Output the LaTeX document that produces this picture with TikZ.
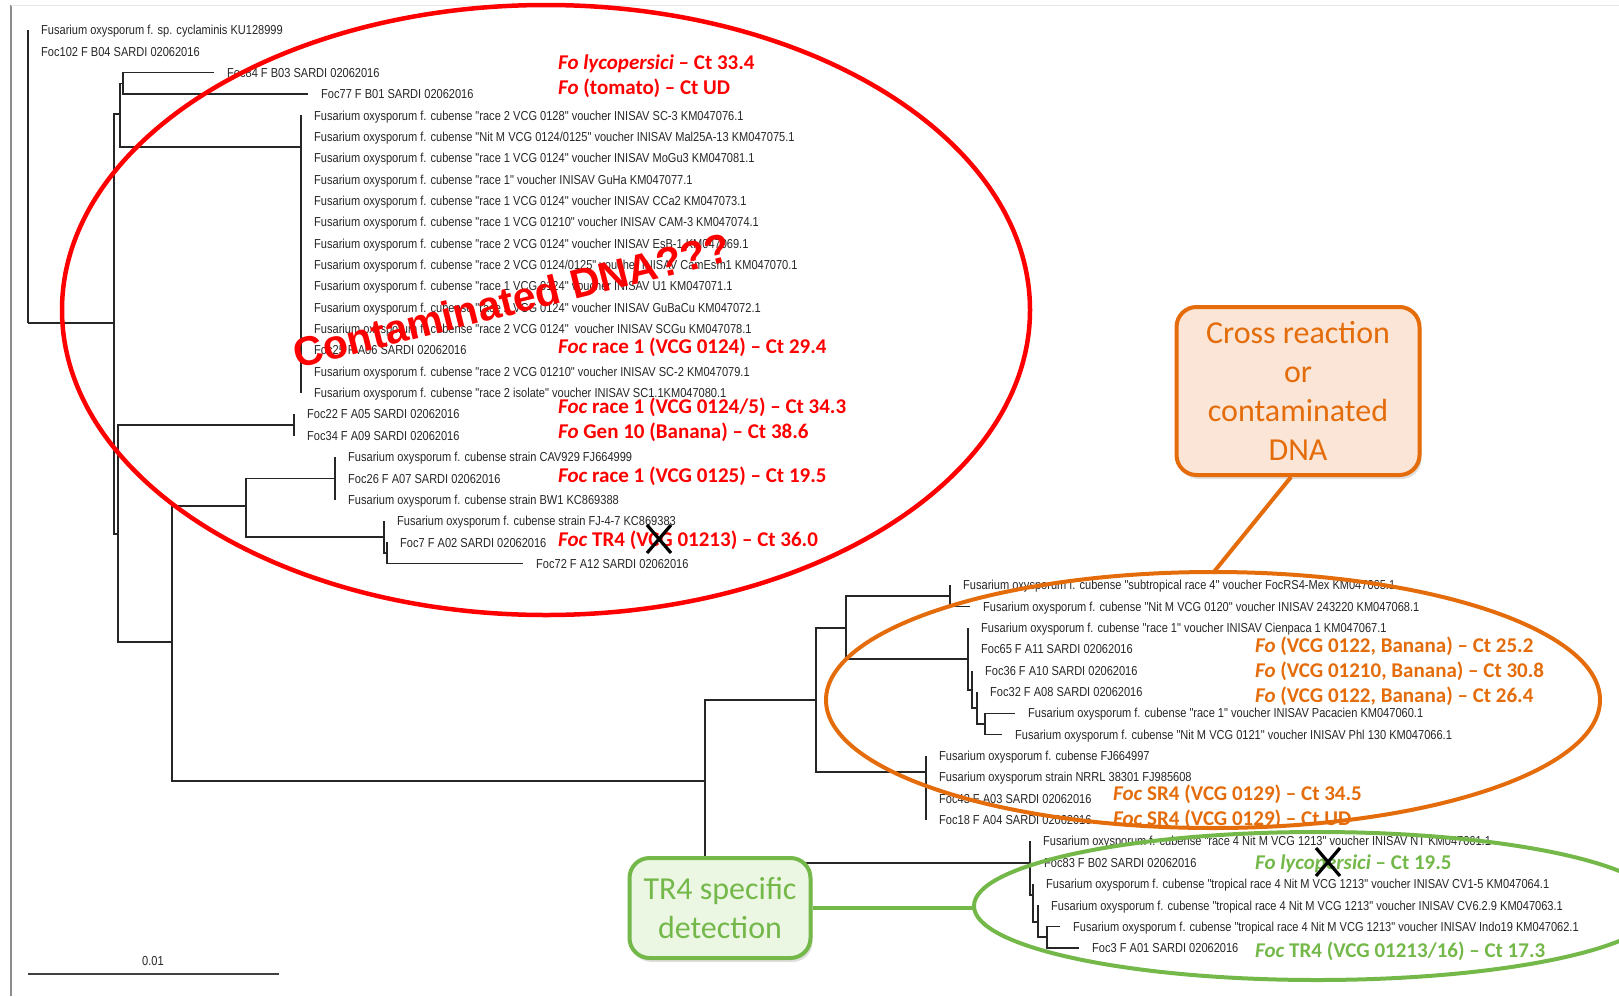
\documentclass[tikz,border=0pt]{standalone}
\usepackage{fontspec}
\usetikzlibrary{shadows}
\newfontfamily\leaffont[FakeStretch=0.85]{Liberation Sans}
\newfontfamily\calib{Carlito}
\newfontfamily\arialb{Liberation Sans}
\definecolor{ored}{HTML}{FF0000}
\definecolor{oorange}{HTML}{E46C0A}
\definecolor{ofill}{HTML}{FBE5D6}
\definecolor{ogreen}{HTML}{74B84A}
\definecolor{gfill}{HTML}{EBF7E3}
\begin{document}
\begin{tikzpicture}[x=1pt,y=-1pt,
  branch/.style={line width=1.4pt, draw=black!85},
  leaf/.style={anchor=west, inner xsep=13pt, inner ysep=0pt, text height=9.3pt, text depth=0pt, font=\leaffont\fontsize{13}{15}\selectfont, text=black!85},
  ann/.style={anchor=west, inner sep=0pt, text height=14pt, text depth=0pt, font=\calib\bfseries\fontsize{21}{25}\selectfont},
  callout/.style={rounded corners=20pt, line width=4pt, align=center, inner sep=0pt, font=\calib\fontsize{32}{39}\selectfont, drop shadow={opacity=0.25, shadow xshift=2pt, shadow yshift=-4pt}},
  xmark/.style={line width=3.2pt, black}
]
\useasboundingbox (0,0) rectangle (1619,996);
% frame
\draw[black!45, line width=1.2pt] (11,996) -- (11,5);
\draw[black!10, line width=1pt] (11,5) -- (1619,5);

% internal nodes
\coordinate (R)  at (28,323);
\coordinate (A)  at (114,323);
\coordinate (B)  at (120,114);
\coordinate (D)  at (123,83.4);
\coordinate (E)  at (301,147);
\coordinate (C)  at (118,534);
\coordinate (F)  at (294,425);
\coordinate (G)  at (172,642);
\coordinate (H)  at (246,506);
\coordinate (H1) at (335,478.35);
\coordinate (H2) at (384,537);
\coordinate (H3) at (387,553);
\coordinate (I)  at (705,781);
\coordinate (M)  at (816,700);
\coordinate (J)  at (846,628);
\coordinate (K)  at (950,596);
\coordinate (L)  at (968,659);
\coordinate (L2) at (972,690);
\coordinate (L3) at (977,708);
\coordinate (L4) at (985,724);
\coordinate (N)  at (926,772);
\coordinate (T1) at (1030,863);
\coordinate (T2) at (1033,895);
\coordinate (T3) at (1038,922);
\coordinate (T4) at (1047,937);

% leaves
\node[leaf] (l0) at (28,30) {Fusarium oxysporum f. sp. cyclaminis KU128999};
\node[leaf] (l1) at (28,51.35) {Foc102 F B04 SARDI 02062016};
\node[leaf] (l2) at (214,72.7) {Foc84 F B03 SARDI 02062016};
\node[leaf] (l3) at (308,94.05) {Foc77 F B01 SARDI 02062016};
\node[leaf] (l4) at (301,115.4) {Fusarium oxysporum f. cubense "race 2 VCG 0128" voucher INISAV SC-3 KM047076.1};
\node[leaf] (l5) at (301,136.75) {Fusarium oxysporum f. cubense "Nit M VCG 0124/0125" voucher INISAV Mal25A-13 KM047075.1};
\node[leaf] (l6) at (301,158.1) {Fusarium oxysporum f. cubense "race 1 VCG 0124" voucher INISAV MoGu3 KM047081.1};
\node[leaf] (l7) at (301,179.45) {Fusarium oxysporum f. cubense "race 1" voucher INISAV GuHa KM047077.1};
\node[leaf] (l8) at (301,200.8) {Fusarium oxysporum f. cubense "race 1 VCG 0124" voucher INISAV CCa2 KM047073.1};
\node[leaf] (l9) at (301,222.15) {Fusarium oxysporum f. cubense "race 1 VCG 01210" voucher INISAV CAM-3 KM047074.1};
\node[leaf] (l10) at (301,243.5) {Fusarium oxysporum f. cubense "race 2 VCG 0124" voucher INISAV EsB-1 KM047069.1};
\node[leaf] (l11) at (301,264.85) {Fusarium oxysporum f. cubense "race 2 VCG 0124/0125" voucher INISAV CamEsm1 KM047070.1};
\node[leaf] (l12) at (301,286.2) {Fusarium oxysporum f. cubense "race 1 VCG 0124" voucher INISAV U1 KM047071.1};
\node[leaf] (l13) at (301,307.55) {Fusarium oxysporum f. cubense "race 2 VCG 0124" voucher INISAV GuBaCu KM047072.1};
\node[leaf] (l14) at (301,328.9) {Fusarium oxysporum f. cubense "race 2 VCG 0124"\ \ voucher INISAV SCGu KM047078.1};
\node[leaf] (l15) at (301,350.25) {Foc25 F A06 SARDI 02062016};
\node[leaf] (l16) at (301,371.6) {Fusarium oxysporum f. cubense "race 2 VCG 01210" voucher INISAV SC-2 KM047079.1};
\node[leaf] (l17) at (301,392.95) {Fusarium oxysporum f. cubense "race 2 isolate" voucher INISAV SC1.1KM047080.1};
\node[leaf] (l18) at (294,414.3) {Foc22 F A05 SARDI 02062016};
\node[leaf] (l19) at (294,435.65) {Foc34 F A09 SARDI 02062016};
\node[leaf] (l20) at (335,457) {Fusarium oxysporum f. cubense strain CAV929 FJ664999};
\node[leaf] (l21) at (335,478.35) {Foc26 F A07 SARDI 02062016};
\node[leaf] (l22) at (335,499.7) {Fusarium oxysporum f. cubense strain BW1 KC869388};
\node[leaf] (l23) at (384,521.05) {Fusarium oxysporum f. cubense strain FJ-4-7 KC869383};
\node[leaf] (l24) at (387,542.4) {Foc7 F A02 SARDI 02062016};
\node[leaf] (l25) at (523,563.75) {Foc72 F A12 SARDI 02062016};
\node[leaf] (l26) at (950,585.1) {Fusarium oxysporum f. cubense "subtropical race 4" voucher FocRS4-Mex KM047065.1};
\node[leaf] (l27) at (970,606.45) {Fusarium oxysporum f. cubense "Nit M VCG 0120" voucher INISAV 243220 KM047068.1};
\node[leaf] (l28) at (968,627.8) {Fusarium oxysporum f. cubense "race 1" voucher INISAV Cienpaca 1 KM047067.1};
\node[leaf] (l29) at (968,649.15) {Foc65 F A11 SARDI 02062016};
\node[leaf] (l30) at (972,670.5) {Foc36 F A10 SARDI 02062016};
\node[leaf] (l31) at (977,691.85) {Foc32 F A08 SARDI 02062016};
\node[leaf] (l32) at (1015,713.2) {Fusarium oxysporum f. cubense "race 1" voucher INISAV Pacacien KM047060.1};
\node[leaf] (l33) at (1002,734.55) {Fusarium oxysporum f. cubense "Nit M VCG 0121" voucher INISAV Phl 130 KM047066.1};
\node[leaf] (l34) at (926,755.9) {Fusarium oxysporum f. cubense FJ664997};
\node[leaf] (l35) at (926,777.25) {Fusarium oxysporum strain NRRL 38301 FJ985608};
\node[leaf] (l36) at (926,798.6) {Foc43 F A03 SARDI 02062016};
\node[leaf] (l37) at (926,819.95) {Foc18 F A04 SARDI 02062016};
\node[leaf] (l38) at (1030,841.3) {Fusarium oxysporum f. cubense "race 4 Nit M VCG 1213" voucher INISAV NT KM047061.1};
\node[leaf] (l39) at (1031,862.65) {Foc83 F B02 SARDI 02062016};
\node[leaf] (l40) at (1033,884) {Fusarium oxysporum f. cubense "tropical race 4 Nit M VCG 1213" voucher INISAV CV1-5 KM047064.1};
\node[leaf] (l41) at (1038,905.35) {Fusarium oxysporum f. cubense "tropical race 4 Nit M VCG 1213" voucher INISAV CV6.2.9 KM047063.1};
\node[leaf] (l42) at (1060,926.7) {Fusarium oxysporum f. cubense "tropical race 4 Nit M VCG 1213" voucher INISAV Indo19 KM047062.1};
\node[leaf] (l43) at (1079,948.05) {Foc3 F A01 SARDI 02062016};

% branches
\draw[branch] (R) |- (l0.west);
\draw[branch] (R) -- (A);
\draw[branch] (A) |- (B);
\draw[branch] (A) |- (C);
\draw[branch] (B) |- (D);
\draw[branch] (B) |- (E);
\draw[branch] (D) |- (l2.west);
\draw[branch] (D) |- (l3.west);
\foreach \k in {4,...,17} {\draw[branch] (E) |- (l\k.west);}
\draw[branch] (C) |- (F);
\draw[branch] (C) |- (G);
\draw[branch] (F) |- (l18.west);
\draw[branch] (F) |- (l19.west);
\draw[branch] (G) |- (H);
\draw[branch] (G) |- (I);
\draw[branch] (H) |- (H1);
\draw[branch] (H) |- (H2);
\foreach \k in {20,21,22} {\draw[branch] (H1) |- (l\k.west);}
\draw[branch] (H2) |- (l23.west);
\draw[branch] (H2) |- (H3);
\draw[branch] (H3) |- (l24.west);
\draw[branch] (H3) |- (l25.west);
\draw[branch] (I) |- (M);
\draw[branch] (I) |- (T1);
\draw[branch] (M) |- (J);
\draw[branch] (M) |- (N);
\draw[branch] (J) |- (K);
\draw[branch] (J) |- (L);
\draw[branch] (K) |- (l26.west);
\draw[branch] (K) |- (l27.west);
\draw[branch] (L) |- (l28.west);
\draw[branch] (L) |- (L2);
\draw[branch] (L2) |- (l30.west);
\draw[branch] (L2) |- (L3);
\draw[branch] (L3) |- (l31.west);
\draw[branch] (L3) |- (L4);
\draw[branch] (L4) |- (l32.west);
\draw[branch] (L4) |- (l33.west);
\foreach \k in {34,...,37} {\draw[branch] (N) |- (l\k.west);}
\draw[branch] (T1) |- (l38.west);
\draw[branch] (T1) |- (T2);
\draw[branch] (T2) |- (l40.west);
\draw[branch] (T2) |- (T3);
\draw[branch] (T3) |- (l41.west);
\draw[branch] (T3) |- (T4);
\draw[branch] (T4) |- (l42.west);
\draw[branch] (T4) |- (l43.west);

% scale bar
\coordinate (sb1) at (28,974);
\coordinate (sb2) at (279,974);
\draw[line width=1.1pt, black!75] (sb1) -- (sb2);
\node[font=\leaffont\fontsize{13}{15}\selectfont, text=black!85, inner sep=0pt] (sbl) at (153,961) {0.01};

% ellipses
\draw[ored, line width=4.5pt] (546,310) ellipse [x radius=484pt, y radius=305pt];
\draw[oorange, line width=4pt] (1213,700) ellipse [x radius=387pt, y radius=128pt];
\draw[ogreen, line width=4pt] (1317,906) ellipse [x radius=343pt, y radius=74pt];

% red annotations
\node[ann, text=ored] (r1) at (558,62) {\textit{Fo lycopersici} – Ct 33.4};
\node[ann, text=ored] (r2) at (558,87) {\textit{Fo} (tomato) – Ct UD};
\node[ann, text=ored] (r3) at (558,346) {\textit{Foc} race 1 (VCG 0124) – Ct 29.4};
\node[ann, text=ored] (r4) at (558,406) {\textit{Foc} race 1 (VCG 0124/5) – Ct 34.3};
\node[ann, text=ored] (r5) at (558,431) {\textit{Fo} Gen 10 (Banana) – Ct 38.6};
\node[ann, text=ored] (r6) at (558,475) {\textit{Foc} race 1 (VCG 0125) – Ct 19.5};
\node[ann, text=ored] (r7) at (558,539) {\textit{Foc} TR4 (VCG 01213) – Ct 36.0};
\node[rotate=14, inner sep=0pt, text=ored, font=\arialb\bfseries\fontsize{41}{41}\selectfont] (cont) at (512,300) {Contaminated DNA???};

% orange annotations
\node[ann, text=oorange] (o1) at (1255,645) {\textit{Fo} (VCG 0122, Banana) – Ct 25.2};
\node[ann, text=oorange] (o2) at (1255,670) {\textit{Fo} (VCG 01210, Banana) – Ct 30.8};
\node[ann, text=oorange] (o3) at (1255,695) {\textit{Fo} (VCG 0122, Banana) – Ct 26.4};
\node[ann, text=oorange] (o4) at (1113,793) {\textit{Foc} SR4 (VCG 0129) – Ct 34.5};
\node[ann, text=oorange] (o5) at (1113,818) {\textit{Foc} SR4 (VCG 0129) – Ct UD};

% green annotations
\node[ann, text=ogreen] (g1) at (1255,862) {\textit{Fo lycopersici} – Ct 19.5};
\node[ann, text=ogreen] (g2) at (1255,950) {\textit{Foc} TR4 (VCG 01213/16) – Ct 17.3};

% X marks
\coordinate (X1) at (659,539);
\coordinate (X2) at (1328,862);
\draw[xmark] ([shift={(-12,-14)}]X1) -- ([shift={(12,14)}]X1);
\draw[xmark] ([shift={(12,-14)}]X1) -- ([shift={(-12,14)}]X1);
\draw[xmark] ([shift={(-12,-14)}]X2) -- ([shift={(12,14)}]X2);
\draw[xmark] ([shift={(12,-14)}]X2) -- ([shift={(-12,14)}]X2);

% callout boxes
\node[callout, draw=oorange, fill=ofill, text=oorange, minimum width=243pt, minimum height=168pt] (crossbox) at (1298,391) {Cross reaction\\or\\contaminated\\DNA};
\coordinate (otip) at (1213,573);
\draw[oorange, line width=4pt] ([xshift=-7pt]crossbox.south) -- (otip);

\node[callout, draw=ogreen, fill=gfill, text=ogreen, minimum width=181pt, minimum height=100pt] (tr4box) at (720,908) {TR4 specific\\detection};
\coordinate (gtip) at (974,908);
\draw[ogreen, line width=4pt] (tr4box.east) -- (gtip);
\end{tikzpicture}
\end{document}
